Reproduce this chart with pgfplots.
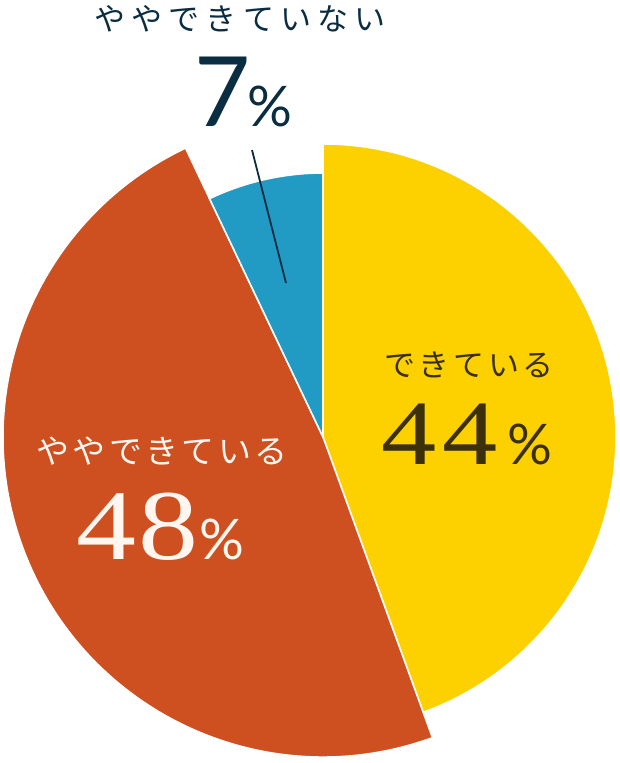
\documentclass[border=0pt]{standalone}
\usepackage{pgfplots}
\usepackage{pgfplotstable}
\pgfplotsset{compat=1.18}
\usepackage{fontspec}
\setmainfont{Liberation Serif}
\newfontfamily\jp{Noto Sans CJK JP}
\newfontfamily\num[FakeStretch=1.2]{Liberation Serif}
\newfontfamily\lat{Lato}

\definecolor{cYes}{HTML}{FDD000}
\definecolor{cSome}{HTML}{CE4F1F}
\definecolor{cNo}{HTML}{219BC4}
\definecolor{txtBrown}{HTML}{3B3009}
\definecolor{txtNavy}{HTML}{0B2D42}
\definecolor{txtLight}{HTML}{FFF6F0}

% share of answers (%), radius of each slice (pt)
\pgfplotstableread{
label value radius
yes   44    293
some  48    320
no    7     264
}\piedata

\begin{document}
\begin{tikzpicture}
\pgfplotstablegetelem{0}{value}\of\piedata \let\va\pgfplotsretval
\pgfplotstablegetelem{1}{value}\of\piedata \let\vb\pgfplotsretval
\pgfplotstablegetelem{2}{value}\of\piedata \let\vc\pgfplotsretval
\pgfplotstablegetelem{0}{radius}\of\piedata \let\ra\pgfplotsretval
\pgfplotstablegetelem{1}{radius}\of\piedata \let\rb\pgfplotsretval
\pgfplotstablegetelem{2}{radius}\of\piedata \let\rc\pgfplotsretval
\pgfmathsetmacro\total{\va+\vb+\vc}
\pgfmathsetmacro\aA{90}
\pgfmathsetmacro\aB{\aA-\va/\total*360}
\pgfmathsetmacro\aC{\aB-\vb/\total*360}
\pgfmathsetmacro\aD{\aC-\vc/\total*360}
\begin{axis}[
    x=1pt, y=1pt,
    xmin=0, xmax=619, ymin=0, ymax=763,
    hide axis, clip=false,
]
\coordinate (bbsw) at (axis cs:0,0);
\coordinate (bbne) at (axis cs:619,763);
% slices, clockwise from the top
\fill[cYes, draw=white, line width=1.6pt] (axis cs:323,326) -- ++(\aA:\ra pt)
    arc[start angle=\aA, end angle=\aB, radius=\ra pt] -- cycle;
\fill[cSome, draw=white, line width=1.6pt] (axis cs:323,326) -- ++(\aB:\rb pt)
    arc[start angle=\aB, end angle=\aC, radius=\rb pt] -- cycle;
\fill[cNo, draw=white, line width=1.6pt] (axis cs:323,326) -- ++(\aC:\rc pt)
    arc[start angle=\aC, end angle=\aD, radius=\rc pt] -- cycle;

% labels
\node[txtBrown, inner sep=0pt] at (axis cs:469,398)
    {\jp\fontsize{31}{31}\selectfont\addfontfeature{LetterSpace=12}できている};
\node[txtBrown, inner sep=0pt, anchor=base west] at (axis cs:381,298)
    {\num\fontsize{92}{92}\selectfont 4\kern6pt4\kern10pt{\lat\fontsize{56}{56}\selectfont\%}};

\node[txtLight, inner sep=0pt] at (axis cs:162,312)
    {\jp\fontsize{33}{33}\selectfont\addfontfeature{LetterSpace=10}ややできている};
\node[txtLight, inner sep=0pt, anchor=base west] at (axis cs:76,203)
    {\num\fontsize{100}{100}\selectfont 4\kern2pt8\kern1pt{\lat\fontsize{56}{56}\selectfont\%}};

\node[txtNavy, inner sep=0pt] at (axis cs:240,744)
    {\jp\fontsize{31}{31}\selectfont\addfontfeature{LetterSpace=20}ややできていない};
\node[txtNavy, inner sep=0pt, anchor=base west] at (axis cs:194,636)
    {\lat\fontsize{97}{97}\selectfont 7\kern-3pt{\fontsize{56}{56}\selectfont\%}};
\draw[txtNavy, line width=1.8pt] (axis cs:252,613) -- (axis cs:286,480);
\end{axis}
\pgfresetboundingbox
\path (bbsw) rectangle (bbne);
\end{tikzpicture}
\end{document}
